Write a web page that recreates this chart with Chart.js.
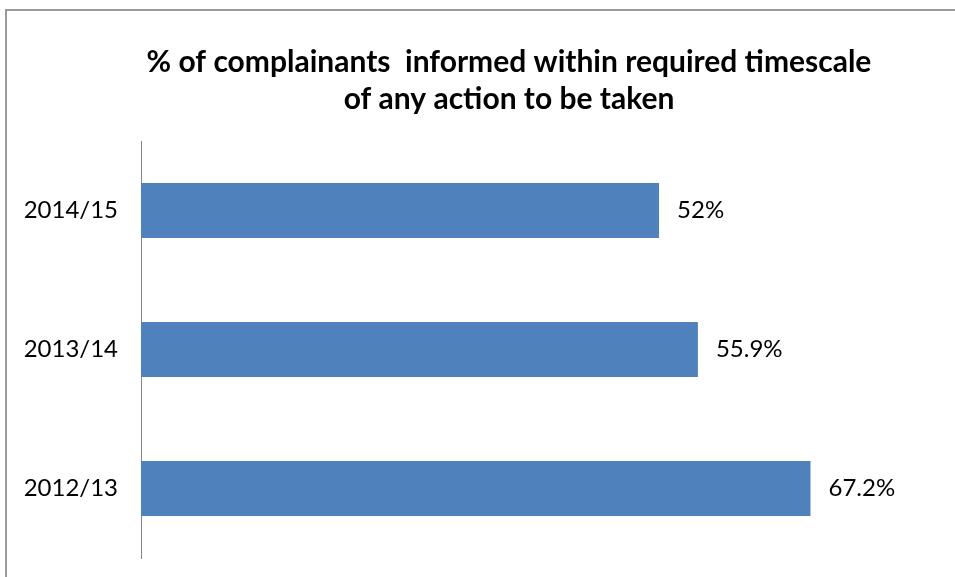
<!DOCTYPE html>
<html>
<head>
<meta charset="utf-8">
<title>Complainants informed within required timescale</title>
<script src="https://cdn.jsdelivr.net/npm/chart.js@4.4.1/dist/chart.umd.min.js"></script>
<style>
  html, body { margin: 0; padding: 0; background: #fff; }
  #wrap { width: 955px; height: 577px; }
</style>
</head>
<body>
<div id="wrap"><canvas id="myChart" width="955" height="577"></canvas></div>
<script>
// Chart data
const years = ['2014/15', '2013/14', '2012/13'];
const percentInformed = [52, 55.9, 67.2];
const valueLabels = ['52%', '55.9%', '67.2%'];
const titleLines = ['% of complainants  informed within required timescale', 'of any action to be taken'];

const labelFont = '24px Lato';

// Frame, title and value labels drawn on top of the chart
const extras = {
  id: 'extras',
  beforeDraw(chart) {
    const ctx = chart.ctx;
    ctx.save();
    ctx.fillStyle = '#fff';
    ctx.fillRect(0, 0, chart.width, chart.height);
    ctx.strokeStyle = '#999';
    ctx.lineWidth = 2;
    ctx.beginPath();
    ctx.moveTo(6, chart.height);
    ctx.lineTo(6, 10);
    ctx.lineTo(chart.width, 10);
    ctx.stroke();
    ctx.restore();
  },
  afterDraw(chart) {
    const ctx = chart.ctx;
    ctx.save();
    ctx.fillStyle = '#000';
    ctx.textAlign = 'center';
    ctx.textBaseline = 'middle';
    ctx.font = 'bold 30px Lato';
    ctx.fillText(titleLines[0], 509, 62);
    ctx.fillText(titleLines[1], 509, 99);

    ctx.textAlign = 'left';
    ctx.font = labelFont;
    chart.getDatasetMeta(0).data.forEach((bar, i) => {
      ctx.fillText(valueLabels[i], bar.x + 18, bar.y);
    });
    ctx.restore();
  }
};

const ctx = document.getElementById('myChart').getContext('2d');
new Chart(ctx, {
  type: 'bar',
  data: {
    labels: years,
    datasets: [{
      data: percentInformed,
      backgroundColor: '#4F81BD',
      borderWidth: 0,
      categoryPercentage: 1,
      barPercentage: 0.395,
    }],
  },
  options: {
    indexAxis: 'y',
    responsive: false,
    animation: false,
    layout: { padding: { top: 141, right: 17, bottom: 19, left: 0 } },
    plugins: {
      legend: { display: false },
      title: { display: false },
      tooltip: { enabled: false },
    },
    scales: {
      x: { display: false, min: 0, max: 80 },
      y: {
        grid: { display: false },
        border: { display: true, color: '#868686', width: 1 },
        ticks: { color: '#000', padding: 15, font: { family: 'Lato', size: 24 } },
        afterFit(scale) {
          scale.width = 141;
          scale.paddingTop = 0;
          scale.paddingBottom = 0;
        },
      },
    },
  },
  plugins: [extras],
});
</script>
</body>
</html>
